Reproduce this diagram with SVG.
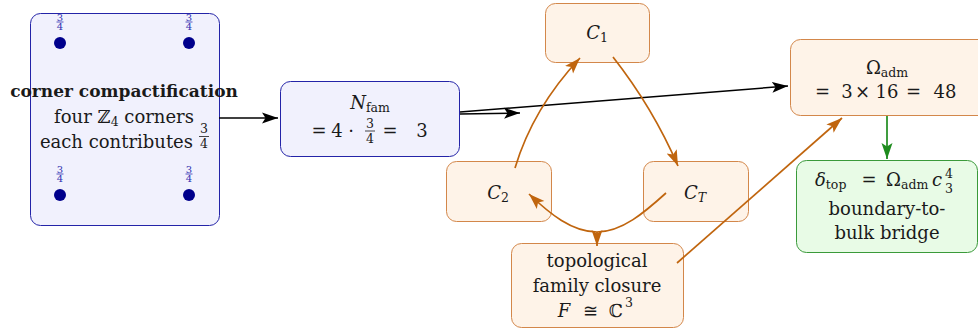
<svg xmlns="http://www.w3.org/2000/svg" width="978" height="333" viewBox="0 0 978 333">
<style>
text{font-family:"DejaVu Serif","Liberation Serif",serif;font-size:18px;fill:#1a1a1a}
.m{text-anchor:middle}
.b{font-weight:bold;font-size:17px}
.i{font-style:italic}
.s{font-size:12.5px}
.fr{font-size:12.5px}
.bl{fill:#3030b0;font-size:10px}
.blue{fill:#f1f1fd;stroke:#2424a8;stroke-width:1}
.or{fill:#fef3e8;stroke:#d3874a;stroke-width:1}
.gr{fill:#e8fbe6;stroke:#3a9a3a;stroke-width:1}
.ek{stroke:#000;stroke-width:1.5;fill:none}
.eo{stroke:#c0650e;stroke-width:1.7;fill:none}
.eg{stroke:#1e8c1e;stroke-width:1.7;fill:none}
</style>
<defs>
<marker id="ak" markerUnits="userSpaceOnUse" markerWidth="17" markerHeight="13" refX="16" refY="6.5" orient="auto"><path d="M0,1 L16,6.5 L0,12 L3.5,6.5 Z" fill="#000"/></marker>
<marker id="ao" markerUnits="userSpaceOnUse" markerWidth="17" markerHeight="13" refX="16" refY="6.5" orient="auto"><path d="M0,1 L16,6.5 L0,12 L3.5,6.5 Z" fill="#c0650e"/></marker>
<marker id="ag" markerUnits="userSpaceOnUse" markerWidth="17" markerHeight="13" refX="16" refY="6.5" orient="auto"><path d="M0,1 L16,6.5 L0,12 L3.5,6.5 Z" fill="#1e8c1e"/></marker>
</defs>

<g id="corners">
<rect class="blue" x="30.5" y="13.5" width="189" height="212" rx="10"/>
<circle cx="60" cy="43" r="6" fill="#00008c"/>
<circle cx="189" cy="43" r="6" fill="#00008c"/>
<circle cx="60" cy="195" r="6" fill="#00008c"/>
<circle cx="189" cy="195" r="6" fill="#00008c"/>
<text class="bl m" x="60" y="20.5">3</text><line x1="56.5" y1="22" x2="63.5" y2="22" stroke="#3030b0" stroke-width="0.8"/><text class="bl m" x="60" y="30">4</text>
<text class="bl m" x="189" y="20.5">3</text><line x1="185.5" y1="22" x2="192.5" y2="22" stroke="#3030b0" stroke-width="0.8"/><text class="bl m" x="189" y="30">4</text>
<text class="bl m" x="60" y="172.5">3</text><line x1="56.5" y1="174" x2="63.5" y2="174" stroke="#3030b0" stroke-width="0.8"/><text class="bl m" x="60" y="182">4</text>
<text class="bl m" x="189" y="172.5">3</text><line x1="185.5" y1="174" x2="192.5" y2="174" stroke="#3030b0" stroke-width="0.8"/><text class="bl m" x="189" y="182">4</text>
<text class="m b" x="124" y="97">corner compactification</text>
<text class="m" x="124" y="123">four ℤ<tspan class="s" dy="3">4</tspan><tspan dy="-3"> corners</tspan></text>
<text x="193" y="148" text-anchor="end">each contributes</text>
<text class="fr m" x="204" y="133">3</text><line x1="199" y1="136.5" x2="209" y2="136.5" stroke="#1a1a1a" stroke-width="0.8"/><text class="fr m" x="204" y="148">4</text>
</g>

<g id="nfam">
<rect class="blue" x="280.5" y="81.5" width="179" height="75" rx="10"/>
<text class="m" x="370" y="109"><tspan class="i">N</tspan><tspan class="s" dy="3">fam</tspan></text>
<text class="m" x="319" y="137">=</text>
<text class="m" x="337" y="137">4</text>
<text class="m" x="351" y="137">·</text>
<text class="fr m" x="370" y="128">3</text><line x1="365" y1="131" x2="375" y2="131" stroke="#1a1a1a" stroke-width="0.8"/><text class="fr m" x="370" y="143">4</text>
<text class="m" x="390" y="137">=</text>
<text class="m" x="422" y="137">3</text>
</g>

<g id="c1">
<rect class="or" x="545.5" y="3.5" width="104" height="59" rx="10"/>
<text class="m" x="597" y="39"><tspan class="i">C</tspan><tspan class="s" dy="3">1</tspan></text>
</g>

<g id="c2">
<rect class="or" x="446.5" y="161.5" width="105" height="60" rx="10"/>
<text class="m" x="498" y="199"><tspan class="i">C</tspan><tspan class="s" dy="3">2</tspan></text>
</g>

<g id="ct">
<rect class="or" x="643.5" y="161.5" width="105" height="60" rx="10"/>
<text class="m" x="695" y="199"><tspan class="i">C</tspan><tspan class="s i" dy="3">T</tspan></text>
</g>

<g id="closure">
<rect class="or" x="511.5" y="243.5" width="172" height="84" rx="10"/>
<text class="m" x="597" y="267">topological</text>
<text class="m" x="597" y="292">family closure</text>
<text class="m" y="317"><tspan class="i" x="564">F</tspan><tspan x="590">≅</tspan><tspan x="616">ℂ</tspan></text>
<text class="s" x="625" y="307">3</text>
</g>

<g id="omega">
<rect class="or" x="790.5" y="39.5" width="200" height="76" rx="10"/>
<text class="m" x="887" y="74">Ω<tspan class="s" dy="3">adm</tspan></text>
<text class="m" y="98"><tspan x="822.5">=</tspan><tspan x="847">3</tspan><tspan x="862.5">×</tspan><tspan x="887">16</tspan><tspan x="913.5">=</tspan><tspan x="945">48</tspan></text>
</g>

<g id="delta">
<rect class="gr" x="796.5" y="160.5" width="181" height="92" rx="10"/>
<text x="815" y="186"><tspan class="i">δ</tspan><tspan class="s" dy="3">top</tspan></text>
<text class="m" x="869" y="186">=</text>
<text x="886" y="186">Ω<tspan class="s" dy="3">adm</tspan></text>
<text class="i" x="932" y="186">c</text>
<text class="s" x="945" y="178">4</text>
<text class="s" x="945" y="193">3</text>
<text class="m" x="887" y="215">boundary-to-</text>
<text class="m" x="887" y="239">bulk bridge</text>
</g>

<g id="connectors">
<path class="ek" d="M219,118 L278,118" marker-end="url(#ak)"/>
<path class="ek" d="M460,114 L520,113" marker-end="url(#ak)"/>
<path class="ek" d="M460,112 L788,86" marker-end="url(#ak)"/>
<path class="eo" d="M515,168 Q533,108 580,58" marker-end="url(#ao)"/>
<path class="eo" d="M613,57 Q653,108 678,166" marker-end="url(#ao)"/>
<path class="eo" d="M666,193 C645,212 622,232 597,232 C572,232 550,214 529,194" marker-end="url(#ao)"/>
<path class="eo" d="M597,232 L597,246" marker-end="url(#ao)"/>
<path class="eo" d="M677,263 L842,118" marker-end="url(#ao)"/>
<path class="eg" d="M887,116 L887,159" marker-end="url(#ag)"/>
</g>
</svg>
